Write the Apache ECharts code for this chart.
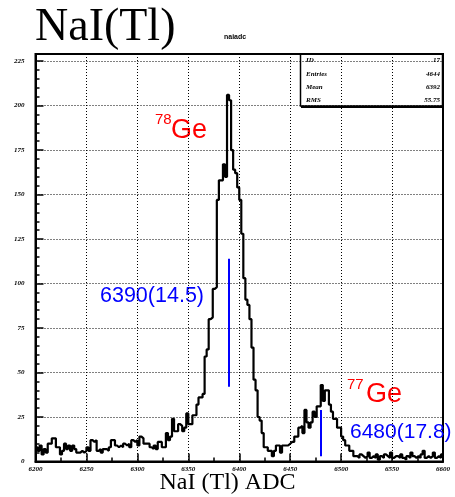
<!DOCTYPE html>
<html>
<head>
<meta charset="utf-8">
<script src="https://cdn.jsdelivr.net/npm/echarts@6/dist/echarts.min.js"></script>
<style>
html,body{margin:0;padding:0;background:#fff;}
#chart{width:455px;height:497px;}
</style>
</head>
<body>
<div id="chart"></div>
<script>
// ---- data ----
const HIST_MIN = 6200;
const HIST_MAX = 6600;
const BIN_WIDTH = 2;
const counts = [
  8,6,9,4,7,5,10,10,13,13,
  8,8,4,6,10,7,9,6,9,7,
  5,5,6,5,6,8,6,12,11,12,
  6,7,5,7,7,6,8,12,12,9,
  8,9,8,10,9,10,8,12,11,12,
  9,14,13,10,10,10,8,7,9,7,
  11,11,8,8,16,12,14,24,17,17,
  21,20,17,19,27,21,21,26,26,32,
  36,36,38,59,63,80,81,97,98,147,
  158,158,167,160,206,203,175,164,162,154,
  147,128,103,91,88,80,64,46,40,25,
  23,16,8,8,6,6,3,6,9,9,
  5,9,9,9,10,11,11,14,14,19,
  20,16,29,22,19,22,28,25,31,31,
  43,34,40,40,32,28,24,24,19,19,
  14,12,9,9,6,6,3,3,2,4,
  3,2,3,5,2,3,2,4,1,3,
  2,4,3,2,5,2,3,3,2,4,
  2,1,3,2,5,3,2,3,2,4,
  6,2,3,2,3,5,2,3,2,4
];
const xTicks = [6200,6250,6300,6350,6400,6450,6500,6550,6600];
const yTicks = [0,25,50,75,100,125,150,175,200,225];
const peakLines = [
  {x: 6390, y0: 42, y1: 114},
  {x: 6480, y0: 3, y1: 29}
];
const statsLabels = ['ID', 'Entries', 'Mean', 'RMS'];
const statsValues = ['17', '4644', '6392', '55.75'];

// ---- build histogram step data ----
const histData = counts.map((c, i) => [HIST_MIN + i * BIN_WIDTH, c]);
histData.push([HIST_MIN + counts.length * BIN_WIDTH, counts[counts.length - 1]]);

const chart = echarts.init(document.getElementById('chart'), null, {renderer: 'canvas'});

const grid = {left: 35.5, right: 12, top: 54, bottom: 35.5};
const statsGraphics = [];
statsLabels.forEach((l, i) => {
  statsGraphics.push({type: 'text', left: 306, top: 57 + i * 13.3,
    style: {text: l, font: 'bold italic 7px "Liberation Serif"', fill: '#000'}});
  statsGraphics.push({type: 'text', right: 15, top: 57 + i * 13.3,
    style: {text: statsValues[i], font: 'bold italic 7px "Liberation Serif"', fill: '#000', textAlign: 'right'}});
});

const labelFont = {color: '#000', fontSize: 7, fontWeight: 'bold', fontStyle: 'italic', fontFamily: 'Liberation Serif'};

const option = {
  animation: false,
  backgroundColor: '#fff',
  grid: Object.assign({show: true, borderColor: '#000', borderWidth: 2, backgroundColor: 'transparent'}, grid),
  xAxis: {
    type: 'value', min: HIST_MIN, max: HIST_MAX, interval: 50,
    axisLine: {show: true, lineStyle: {color: '#000', width: 2}},
    axisTick: {show: true, inside: true, length: 8, lineStyle: {color: '#000', width: 1.5}},
    minorTick: {show: true, splitNumber: 2, length: 4, lineStyle: {color: '#000', width: 1.5}},
    splitLine: {show: true, lineStyle: {color: '#000', width: 1, type: [1, 2]}},
    axisLabel: Object.assign({
      margin: 4,
      formatter: v => (xTicks.indexOf(v) >= 0 ? String(v) : '')
    }, labelFont)
  },
  yAxis: {
    type: 'value', min: 0, max: 229, interval: 25,
    axisLine: {show: true, lineStyle: {color: '#000', width: 2}},
    axisTick: {show: true, inside: true, length: 8, lineStyle: {color: '#000', width: 1.5}},
    minorTick: {show: true, splitNumber: 5, length: 4, lineStyle: {color: '#000', width: 1.5}},
    splitLine: {show: true, lineStyle: {color: '#000', width: 1, type: [1, 2]}},
    axisLabel: Object.assign({
      margin: 11, showMaxLabel: false,
      formatter: v => (yTicks.indexOf(v) >= 0 ? String(v) : '')
    }, labelFont)
  },
  series: [{
    type: 'line',
    data: histData,
    step: 'end',
    showSymbol: false,
    symbol: 'none',
    clip: true,
    lineStyle: {color: '#000', width: 2.2},
    markLine: {
      silent: true,
      symbol: ['none', 'none'],
      label: {show: false},
      lineStyle: {color: '#0000ff', width: 2, type: 'solid'},
      data: peakLines.map(p => [{coord: [p.x, p.y0]}, {coord: [p.x, p.y1]}])
    }
  }],
  graphic: [
    {type: 'text', left: 35, top: 5,
      style: {text: 'NaI(Tl)', font: '46px "Liberation Serif"', fill: '#000'}},
    {type: 'text', left: 224, top: 34,
      style: {text: 'naiadc', font: 'bold 7px "Liberation Sans"', fill: '#000'}},
    {type: 'text', left: 155, top: 112,
      style: {text: '78', font: '15px "Liberation Sans"', fill: '#ff0000'}},
    {type: 'text', left: 171, top: 117,
      style: {text: 'Ge', font: '27px "Liberation Sans"', fill: '#ff0000'}},
    {type: 'text', left: 100, top: 285,
      style: {text: '6390(14.5)', font: '21.5px "Liberation Sans"', fill: '#0000ff'}},
    {type: 'text', left: 347, top: 377,
      style: {text: '77', font: '15px "Liberation Sans"', fill: '#ff0000'}},
    {type: 'text', left: 366, top: 381,
      style: {text: 'Ge', font: '27px "Liberation Sans"', fill: '#ff0000'}},
    {type: 'text', left: 350, top: 422,
      style: {text: '6480(17.8)', font: '21px "Liberation Sans"', fill: '#0000ff'}},
    {type: 'text', left: 'center', top: 471,
      style: {text: 'NaI (Tl) ADC', font: '24px "Liberation Serif"', fill: '#000'}},
    {type: 'rect', shape: {x: 300.5, y: 54, width: 142, height: 52},
      style: {fill: 'none', stroke: '#000', lineWidth: 1.5}},
    {type: 'line', shape: {x1: 443, y1: 55, x2: 443, y2: 107}, style: {stroke: '#000', lineWidth: 2}},
    {type: 'line', shape: {x1: 301, y1: 107, x2: 443, y2: 107}, style: {stroke: '#000', lineWidth: 2}}
  ].concat(statsGraphics)
};
chart.setOption(option);
</script>
</body>
</html>
